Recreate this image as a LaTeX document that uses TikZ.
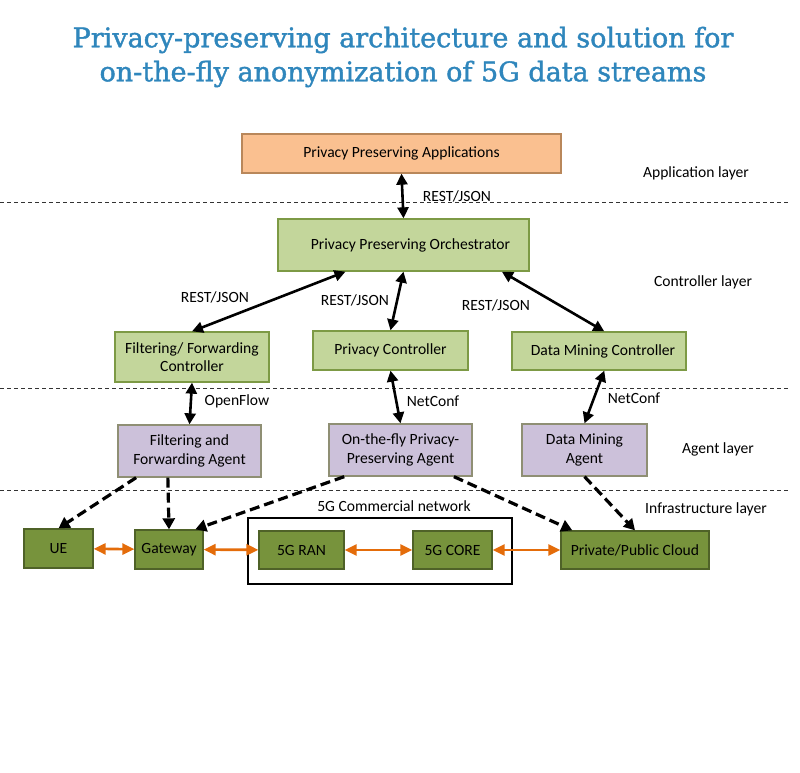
\documentclass[tikz,border=0pt]{standalone}
\usepackage{fontspec}
\setmainfont{Carlito}
\newfontfamily\titlefont[FakeBold=1.5]{DejaVu Serif}
\usetikzlibrary{calc}
\usetikzlibrary{arrows.meta}

\definecolor{titleblue}{HTML}{2F86BC}
\definecolor{appfill}{HTML}{FAC090}
\definecolor{appline}{HTML}{B9875A}
\definecolor{ctlfill}{HTML}{C3D69B}
\definecolor{ctlline}{HTML}{7D9A45}
\definecolor{agtfill}{HTML}{CCC1DA}
\definecolor{agtline}{HTML}{8F8F74}
\definecolor{infill}{HTML}{77933C}
\definecolor{inline}{HTML}{4F6228}
\definecolor{linkorange}{HTML}{E46C0A}

\begin{document}
\begin{tikzpicture}[
  x=1pt,y=-1pt,
  every node/.style={font=\fontsize{15.6}{18.5}\selectfont},
  box/.style={line width=1.3pt,align=center,inner sep=1pt},
  appbox/.style={box,draw=appline,fill=appfill},
  ctlbox/.style={box,draw=ctlline,fill=ctlfill},
  agtbox/.style={box,draw=agtline,fill=agtfill},
  infbox/.style={box,draw=inline,fill=infill},
  layerline/.style={line width=0.8pt,dash pattern=on 4pt off 3pt,black!80},
  api/.style={line width=2.6pt,{Triangle[length=11pt,width=11pt]}-{Triangle[length=11pt,width=11pt]}},
  ctrl/.style={line width=3.2pt,dash pattern=on 10pt off 5pt,-{Triangle[length=11pt,width=12pt]}},
  data/.style={line width=2.6pt,linkorange,{Triangle[length=12pt,width=11pt]}-{Triangle[length=12pt,width=11pt]}}
]
  \useasboundingbox (0,0) rectangle (800,773);

  % Title
  \node[text=titleblue,align=center,font=\titlefont\fontsize{27}{34}\selectfont]
    (title) at (403,57) {Privacy-preserving architecture and solution for\\on-the-fly anonymization of 5G data streams};

  % Layer separators
  \draw[layerline] (0,202) -- (790,202);
  \draw[layerline] (0,388) -- (790,388);
  \draw[layerline] (0,490) -- (790,490);

  \node (lapp) at (696,173) {Application layer};
  \node (lctl) at (703,282) {Controller layer};
  \node (lagt) at (718,449) {Agent layer};
  \node (linf) at (706,509) {Infrastructure layer};

  % Application and controller layer
  \node[appbox,minimum width=319pt,minimum height=39pt] (apps) at (401.5,153.5) {Privacy Preserving Applications};
  \node[ctlbox,minimum width=251pt,minimum height=52pt] (orch) at (403.5,245) {\hspace{14pt}Privacy Preserving Orchestrator};
  \node[ctlbox,minimum width=154pt,minimum height=50pt] (ffc) at (192,357) {Filtering/ Forwarding\\Controller};
  \node[ctlbox,minimum width=155pt,minimum height=39pt] (pc) at (390.5,350.5) {Privacy Controller};
  \node[ctlbox,minimum width=174pt,minimum height=38pt] (dmc) at (599,351) {\hspace{8pt}Data Mining Controller};

  % Agent layer
  \node[agtbox,minimum width=143pt,minimum height=52pt] (ffa) at (189.5,451) {Filtering and\\Forwarding Agent};
  \node[agtbox,minimum width=143pt,minimum height=52pt] (oppa) at (400.5,450) {On-the-fly Privacy-\\Preserving Agent};
  \node[agtbox,minimum width=125pt,minimum height=52pt] (dma) at (584.5,450) {Data Mining\\Agent};

  % Infrastructure layer
  \node[infbox,minimum width=69pt,minimum height=39pt] (ue) at (58.5,548.5) {UE};
  \node[infbox,minimum width=68pt,minimum height=39pt] (gw) at (169,549.5) {Gateway};
  \node[infbox,minimum width=85pt,minimum height=38pt] (ran) at (301.5,550) {5G RAN};
  \node[infbox,minimum width=79pt,minimum height=38pt] (core) at (452.5,550) {5G CORE};
  \node[infbox,minimum width=148pt,minimum height=38pt] (cloud) at (635,550) {Private/Public Cloud};
  \node[draw,line width=1.8pt,minimum width=264pt,minimum height=66pt] (net) at (380,551) {};
  \node (netlbl) at (394,506) {5G Commercial network};

  % Interfaces
  \draw[api] (apps.south) -- (orch.north);
  \draw[api] ($(orch.south west)!.27!(orch.south east)$) -- (ffc.north);
  \draw[api] (orch.south) -- (pc.north);
  \draw[api] ($(orch.south west)!.89!(orch.south east)$) -- ($(dmc.north west)!.53!(dmc.north east)$);
  \draw[api] (ffc.south) -- (ffa.north);
  \draw[api] (pc.south) -- (oppa.north);
  \draw[api] ($(dmc.south west)!.53!(dmc.south east)$) -- (dma.north);

  \node (rj1) at (457,196) {REST/JSON};
  \node (rj2) at (215,297) {REST/JSON};
  \node (rj3) at (355,300) {REST/JSON};
  \node (rj4) at (496,305) {REST/JSON};
  \node (of) at (237,401) {OpenFlow};
  \node (nc1) at (433,401) {NetConf};
  \node (nc2) at (634,398) {NetConf};

  % Agent control
  \draw[ctrl] ($(ffa.south west)!.13!(ffa.south east)$) -- (ue.north);
  \draw[ctrl] ($(ffa.south west)!.35!(ffa.south east)$) -- (gw.north);
  \draw[ctrl] ($(oppa.south west)!.11!(oppa.south east)$) -- ($(gw.north west)!.88!(gw.north east)$);
  \draw[ctrl] ($(oppa.south west)!.87!(oppa.south east)$) -- ($(cloud.north west)!.08!(cloud.north east)$);
  \draw[ctrl] (dma.south) -- (cloud.north);

  % Data path
  \draw[data] (ue) -- (gw);
  \draw[data] (gw) -- (ran);
  \draw[data] (ran) -- (core);
  \draw[data] (core) -- (cloud);
\end{tikzpicture}
\end{document}
